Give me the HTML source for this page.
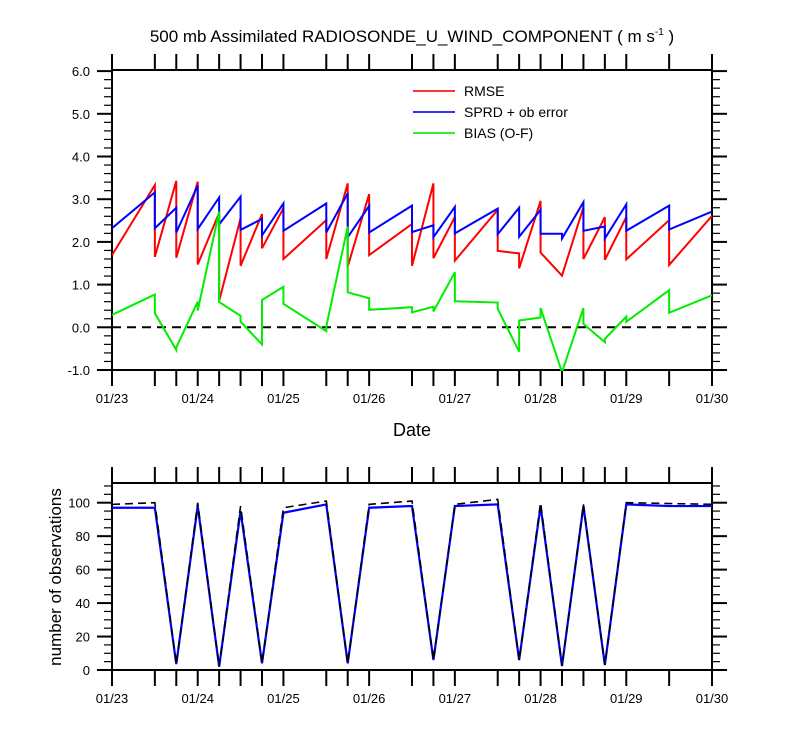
<!DOCTYPE html>
<html><head><meta charset="utf-8"><style>
body{margin:0;background:#fff}
svg text{font-family:"Liberation Sans",sans-serif;fill:#000}
</style></head><body>
<svg id="c" width="800" height="750" xmlns="http://www.w3.org/2000/svg">
<text x="412" y="42" font-size="17" text-anchor="middle">500 mb Assimilated RADIOSONDE_U_WIND_COMPONENT ( m s<tspan font-size="10" dy="-7">-1</tspan><tspan dy="7"> )</tspan></text>
<text x="412" y="436" font-size="18" text-anchor="middle">Date</text>
<text transform="translate(61,577) rotate(-90)" font-size="17" text-anchor="middle">number of observations</text>
<g id="top"></g><g id="bot"></g>
</svg>
<script>
const times=[0,0.5,0.75,1,1.25,1.5,1.75,2,2.5,2.75,3,3.5,3.75,4,4.5,4.75,5,5.25,5.5,5.75,6,6.5,7];
const dayLabels=["01/23","01/24","01/25","01/26","01/27","01/28","01/29","01/30"];
const rmseStart=[1.69,1.65,1.63,1.47,0.62,1.44,1.85,1.60,1.60,1.42,1.69,1.44,1.62,1.56,1.79,1.38,1.75,1.21,1.60,1.58,1.59,1.46];
const rmseEnd=[3.33,3.43,3.41,2.68,2.55,2.65,2.79,2.51,3.37,3.12,2.42,3.37,2.58,2.75,1.73,2.96,1.21,2.81,2.58,2.58,2.51,2.61];
const sprdStart=[2.32,2.32,2.22,2.30,2.41,2.28,2.15,2.26,2.22,2.11,2.22,2.23,2.11,2.20,2.18,2.12,2.19,2.08,2.26,2.08,2.26,2.29];
const sprdEnd=[3.16,2.80,3.32,3.04,3.06,2.54,2.90,2.90,3.14,2.84,2.85,2.39,2.82,2.78,2.80,2.75,2.19,2.93,2.36,2.88,2.85,2.71];
const biasStart=[0.29,0.33,-0.47,0.39,0.59,0.13,0.64,0.55,0.02,0.82,0.41,0.35,0.37,0.61,0.43,0.16,0.45,-1.05,0.08,-0.27,0.13,0.34];
const biasEnd=[0.77,-0.53,0.60,2.71,0.27,-0.40,0.95,-0.09,2.36,0.68,0.47,0.48,1.29,0.58,-0.57,0.23,-1.05,0.45,-0.35,0.25,0.87,0.75];
const obsUsed=[97,97,3.5,98,2,95,4,94,99,4,97,98,6,98,99,6,98,2.4,98,3,99,98,98];
const obsTotal=[99,100,3.5,100,2,98,4,97,101,4,99,101,6,99,102,6,100,2.4,99,3,100,99.5,99];
const yTicksTop=[-1,0,1,2,3,4,5,6];
const yTicksBot=[0,20,40,60,80,100];

const NS="http://www.w3.org/2000/svg";
const X0=112,X1=712;
const sx=t=>X0+(X1-X0)*t/7;
function mk(p,tag,at){const e=document.createElementNS(NS,tag);for(const k in at)e.setAttribute(k,at[k]);p.appendChild(e);return e;}

function frame(g,top,bot,sy,ymin,ymax,minorStep,ticks,fmt,name){
  let r=mk(g,'rect',{x:X0,y:top,width:X1-X0,height:bot-top,fill:'none',stroke:'#000','stroke-width':2});
  
  
  times.forEach(t=>{
    let l=mk(g,'line',{x1:sx(t),x2:sx(t),y1:top-16,y2:top,stroke:'#000','stroke-width':2});
    
    
    let b=mk(g,'line',{x1:sx(t),x2:sx(t),y1:bot,y2:bot+16,stroke:'#000','stroke-width':2});
    
    
  });
  dayLabels.forEach((d,i)=>{
    let tx=mk(g,'text',{x:sx(i),y:bot+33,'font-size':13,'text-anchor':'middle'});tx.textContent=d;
    
    
  });
  for(let v=ymin;v<=ymax+1e-6;v+=minorStep){
    const y=sy(v);
    [[X0-8,X0],[X1,X1+8]].forEach(([a,b])=>{let l=mk(g,'line',{x1:a,x2:b,y1:y,y2:y,stroke:'#000','stroke-width':1.2});
      
      });
  }
  ticks.forEach(v=>{
    const y=sy(v);
    [[X0-15,X0],[X1,X1+15]].forEach(([a,b])=>{let l=mk(g,'line',{x1:a,x2:b,y1:y,y2:y,stroke:'#000','stroke-width':2});
      
      });
    let tx=mk(g,'text',{x:X0-22,y:y+5,'font-size':13,'text-anchor':'end'});tx.textContent=fmt(v);
    
    
  });
}

// top chart
const gT=document.getElementById('top');
const syT=v=>327.3-(v)*42.7;
frame(gT,70,370,syT,-1,6,0.2,yTicksTop,v=>v.toFixed(1),'top-plot');
let z=mk(gT,'line',{x1:X0,x2:X1,y1:syT(0),y2:syT(0),stroke:'#000','stroke-width':2,'stroke-dasharray':'9,6'});


const clip=mk(gT,'clipPath',{id:'cp'});mk(clip,'rect',{x:X0,y:70,width:600,height:301});
function saw(st,en,col,name){
  let d='';
  for(let i=0;i<st.length;i++){
    d+=(i===0?'M':'L')+sx(times[i])+','+syT(st[i])+'L'+sx(times[i+1])+','+syT(en[i]);
  }
  let p=mk(gT,'path',{d:d,fill:'none',stroke:col,'stroke-width':2,'clip-path':'url(#cp)'});
  
  
}
saw(rmseStart,rmseEnd,'#f00','rmse-line');
saw(sprdStart,sprdEnd,'#00f','sprd-line');
saw(biasStart,biasEnd,'#0e0','bias-line');
[['RMSE','#f33',91],['SPRD + ob error','#33f',112],['BIAS (O-F)','#3e3',133]].forEach(([t,c,y])=>{
  let l=mk(gT,'line',{x1:413,x2:455,y1:y,y2:y,stroke:c,'stroke-width':2});
  
  
  let tx=mk(gT,'text',{x:464,y:y+5,'font-size':14});tx.textContent=t;
  
  
});

// bottom chart
const gB=document.getElementById('bot');
const syB=v=>670-v*1.673;
frame(gB,483,670,syB,0,110,5,yTicksBot,v=>String(v),'bottom-plot');
function poly(vals,col,dash,name,w){
  let d=vals.map((v,i)=>(i?'L':'M')+sx(times[i])+','+syB(v)).join('');
  let p=mk(gB,'path',{d:d,fill:'none',stroke:col,'stroke-width':w});
  if(dash)p.setAttribute('stroke-dasharray',dash);
  
  
}
poly(obsUsed,'#00f',null,'obs-used-line',2.2);
poly(obsTotal,'#000','8,5','obs-total-line',1.6);
</script>
</body></html>
